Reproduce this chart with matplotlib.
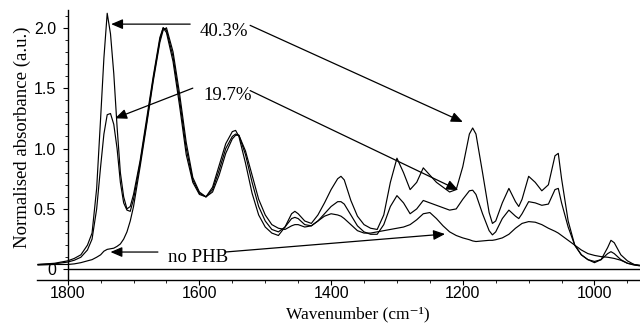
import numpy as np
import matplotlib.pyplot as plt
from matplotlib.ticker import MultipleLocator

# Wavenumber grid (cm-1)
wavenumber = [1845, 1820, 1800, 1790, 1780, 1770, 1763, 1756, 1750, 1745,
              1740, 1735, 1730, 1725, 1720, 1715, 1710, 1705, 1700, 1690,
              1680, 1670, 1660, 1655, 1650, 1640, 1630, 1620, 1610, 1600,
              1590, 1580, 1570, 1560, 1550, 1545, 1540, 1530, 1520, 1510,
              1500, 1490, 1480, 1470, 1460, 1455, 1450, 1440, 1430, 1420,
              1410, 1400, 1390, 1385, 1380, 1370, 1360, 1350, 1340, 1330,
              1320, 1310, 1300, 1290, 1280, 1270, 1260, 1250, 1240, 1230,
              1220, 1210, 1200, 1190, 1185, 1180, 1170, 1160, 1155, 1150,
              1140, 1130, 1120, 1115, 1110, 1100, 1090, 1080, 1070, 1060,
              1055, 1050, 1040, 1030, 1020, 1010, 1000, 990, 980, 975,
              970, 960, 950, 940, 932]

# 40.3% PHB
abs_403 = [0.04, 0.05, 0.07, 0.09, 0.12, 0.20, 0.30, 0.67, 1.25, 1.75,
           2.12, 1.95, 1.62, 1.18, 0.80, 0.60, 0.50, 0.52, 0.62, 0.90,
           1.25, 1.60, 1.92, 2.00, 1.96, 1.72, 1.35, 0.95, 0.72, 0.62,
           0.60, 0.68, 0.86, 1.04, 1.14, 1.15, 1.10, 0.88, 0.63, 0.45,
           0.35, 0.30, 0.28, 0.35, 0.46, 0.48, 0.46, 0.40, 0.38, 0.45,
           0.55, 0.66, 0.75, 0.77, 0.74, 0.57, 0.44, 0.37, 0.34, 0.33,
           0.45, 0.72, 0.92, 0.80, 0.66, 0.72, 0.84, 0.78, 0.72, 0.68,
           0.64, 0.66, 0.85, 1.12, 1.17, 1.12, 0.80, 0.47, 0.38, 0.40,
           0.55, 0.67, 0.56, 0.52, 0.58, 0.77, 0.72, 0.65, 0.70, 0.94,
           0.96, 0.75, 0.40, 0.20, 0.12, 0.08, 0.055, 0.08, 0.18, 0.24,
           0.22, 0.12, 0.07, 0.04, 0.03]

# 19.7% PHB
abs_197 = [0.04, 0.045, 0.06, 0.075, 0.10, 0.16, 0.25, 0.50, 0.85, 1.12,
           1.28, 1.29, 1.20, 1.00, 0.72, 0.55, 0.49, 0.48, 0.58, 0.88,
           1.22, 1.58, 1.90, 2.00, 1.98, 1.76, 1.40, 1.00, 0.74, 0.63,
           0.60, 0.66, 0.82, 1.00, 1.10, 1.12, 1.11, 0.95, 0.72, 0.52,
           0.40, 0.33, 0.31, 0.35, 0.42, 0.43, 0.42, 0.37, 0.36, 0.40,
           0.46, 0.52, 0.56, 0.56, 0.54, 0.45, 0.36, 0.31, 0.29, 0.29,
           0.37, 0.52, 0.61, 0.55, 0.46, 0.50, 0.57, 0.55, 0.53, 0.51,
           0.49, 0.50, 0.58, 0.65, 0.655, 0.62, 0.46, 0.32, 0.285, 0.31,
           0.42, 0.49, 0.44, 0.42, 0.46, 0.56, 0.55, 0.53, 0.54, 0.66,
           0.67, 0.55, 0.35, 0.20, 0.12, 0.08, 0.065, 0.08, 0.13, 0.146,
           0.13, 0.08, 0.05, 0.035, 0.03]

# no PHB
abs_nophb = [0.035, 0.04, 0.04, 0.045, 0.055, 0.07, 0.08, 0.10, 0.12, 0.15,
             0.165, 0.17, 0.175, 0.19, 0.21, 0.25, 0.31, 0.40, 0.52, 0.85,
             1.20, 1.56, 1.88, 1.98, 2.00, 1.80, 1.45, 1.05, 0.76, 0.64,
             0.60, 0.64, 0.78, 0.96, 1.08, 1.11, 1.11, 0.98, 0.78, 0.58,
             0.45, 0.37, 0.34, 0.33, 0.36, 0.37, 0.37, 0.35, 0.36, 0.40,
             0.44, 0.46, 0.45, 0.44, 0.42, 0.37, 0.32, 0.30, 0.30, 0.31,
             0.32, 0.33, 0.34, 0.35, 0.37, 0.41, 0.46, 0.47, 0.42, 0.36,
             0.31, 0.28, 0.26, 0.245, 0.235, 0.23, 0.235, 0.24, 0.24, 0.245,
             0.26, 0.29, 0.34, 0.36, 0.38, 0.395, 0.39, 0.37, 0.34, 0.315,
             0.30, 0.28, 0.24, 0.20, 0.16, 0.13, 0.115, 0.105, 0.10, 0.095,
             0.09, 0.075, 0.05, 0.04, 0.035]

# Labels with their arrows: (text, text position, [(tail, tip), ...])
labels = ['40.3%', '19.7%', 'no PHB']
label_pos = [(1599, 1.965), (1594, 1.435), (1647, 0.10)]
arrows = [
    [((1614, 2.03), (1734, 2.03)), ((1523, 2.02), (1200, 1.22))],
    [((1610, 1.50), (1728, 1.25)), ((1523, 1.48), (1207, 0.656))],
    [((1663, 0.143), (1735, 0.143)), ((1561, 0.143), (1227, 0.292))],
]

serif = ['Liberation Serif', 'DejaVu Serif']

fig = plt.figure(figsize=(6.4, 3.23), dpi=100)
ax = fig.add_axes([37 / 640, (323 - 279.5) / 323, 603 / 640, 269.5 / 323])

for series in (abs_403, abs_197, abs_nophb):
    ax.plot(wavenumber, series, color='black', lw=0.85)

ax.hlines(0, 1800, 925, color='black', lw=1.0)

for text, pos, arrs in zip(labels, label_pos, arrows):
    ax.text(pos[0], pos[1], text, fontsize=13.5, family=serif,
            ha='left', va='center')
    for tail, tip in arrs:
        ax.annotate('', xy=tip, xytext=tail,
                    arrowprops=dict(arrowstyle='-|>,head_length=0.7,head_width=0.3',
                                    color='black', lw=0.9, shrinkA=0, shrinkB=0))

ax.set_xlim(1846.6, 930.9)
ax.set_ylim(-0.0844, 2.147)

ax.spines['top'].set_visible(False)
ax.spines['right'].set_visible(False)
ax.spines['left'].set_position(('data', 1800))
ax.spines['left'].set_linewidth(1.0)
ax.spines['bottom'].set_linewidth(1.0)

ax.xaxis.set_major_locator(MultipleLocator(200))
ax.xaxis.set_minor_locator(MultipleLocator(50))
ax.set_yticks([0, 0.5, 1.0, 1.5, 2.0])
ax.set_yticklabels(['0', '0.5', '1.0', '1.5', '2.0'])
ax.yaxis.set_minor_locator(MultipleLocator(0.1))
ax.tick_params(which='major', length=3.5, width=0.8, labelsize=11.5)
ax.tick_params(axis='x', which='major', pad=1.5)
ax.tick_params(axis='y', which='major', pad=5)
ax.tick_params(which='minor', length=2, width=0.6)
for lab in ax.get_xticklabels() + ax.get_yticklabels():
    lab.set_family('Liberation Sans')

fig.text(22 / 640, 1 - 137 / 323, 'Normalised absorbance (a.u.)', rotation=90,
         fontsize=13.5, family=serif, ha='center', va='center')
fig.text(358 / 640, 0.5 / 323, 'Wavenumber (cm\u207b\u00b9)',
         fontsize=12.5, family=serif, ha='center', va='bottom')

fig.savefig('out.png', dpi=100)
